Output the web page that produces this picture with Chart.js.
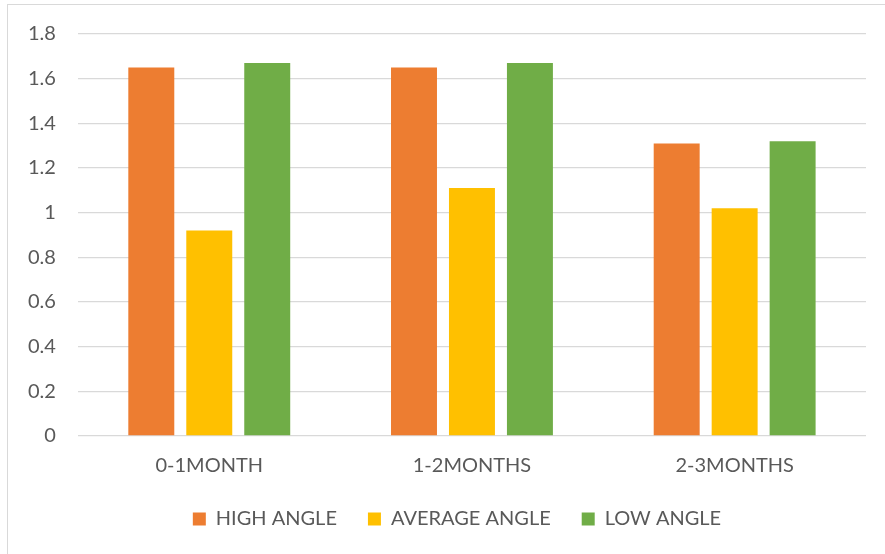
<!DOCTYPE html>
<html>
<head>
<meta charset="utf-8">
<script src="https://cdn.jsdelivr.net/npm/chart.js@4/dist/chart.umd.min.js"></script>
<style>
  html, body { margin: 0; padding: 0; background: #fff; }
  #wrap { position: relative; width: 885px; height: 554px; overflow: hidden; }
  #frame { position: absolute; left: 7px; top: 4px; width: 900px; height: 600px;
           border-left: 1.5px solid #d9d9d9; border-top: 1.5px solid #d9d9d9; box-sizing: border-box; }
  canvas { position: absolute; left: 0; top: 0; }
</style>
</head>
<body>
<div id="wrap">
  <div id="frame"></div>
  <canvas id="c" width="885" height="554"></canvas>
</div>
<script>
const categories = ["0-1MONTH", "1-2MONTHS", "2-3MONTHS"];
const highAngle = [1.65, 1.65, 1.31];
const averageAngle = [0.92, 1.11, 1.02];
const lowAngle = [1.67, 1.67, 1.32];
const yTickLabels = ["0", "0.2", "0.4", "0.6", "0.8", "1", "1.2", "1.4", "1.6", "1.8"];

const textColor = "#595959";
const fontFamily = "Lato, 'Open Sans', sans-serif";

// wide horizontal gaps between legend entries, but keep the row close to the axis labels
// and centred under the plot
const legendNudge = {
  id: "legendNudge",
  afterLayout(chart) {
    const lg = chart.legend;
    if (lg) {
      lg.top -= 18; lg.bottom -= 18;
      lg.left += 21; lg.right += 21;
    }
  }
};

new Chart(document.getElementById("c"), {
  type: "bar",
  data: {
    labels: categories,
    datasets: [
      { label: "HIGH ANGLE", data: highAngle, backgroundColor: "#ED7D31" },
      { label: "AVERAGE ANGLE", data: averageAngle, backgroundColor: "#FFC000" },
      { label: "LOW ANGLE", data: lowAngle, backgroundColor: "#70AD47" }
    ]
  },
  plugins: [legendNudge],
  options: {
    responsive: false,
    animation: false,
    devicePixelRatio: 1,
    datasets: { bar: { categoryPercentage: 0.662, barPercentage: 0.793 } },
    layout: { padding: { left: 6, right: 19, top: 22, bottom: 0 } },
    plugins: {
      tooltip: { enabled: false },
      legend: {
        position: "bottom",
        maxHeight: 58,
        labels: {
          color: textColor,
          font: { family: fontFamily, size: 20 },
          boxWidth: 13,
          boxHeight: 13,
          padding: 31
        }
      }
    },
    scales: {
      x: {
        grid: { display: false, drawTicks: false },
        border: { display: false },
        ticks: { color: textColor, font: { family: fontFamily, size: 20 }, padding: 18 }
      },
      y: {
        min: 0,
        max: 1.8,
        grid: { color: "#d9d9d9", lineWidth: 1.3, drawTicks: false },
        border: { display: false },
        ticks: {
          stepSize: 0.2,
          color: textColor,
          font: { family: fontFamily, size: 20 },
          padding: 22,
          callback: (v, i) => yTickLabels[i]
        }
      }
    }
  }
});
</script>
</body>
</html>
